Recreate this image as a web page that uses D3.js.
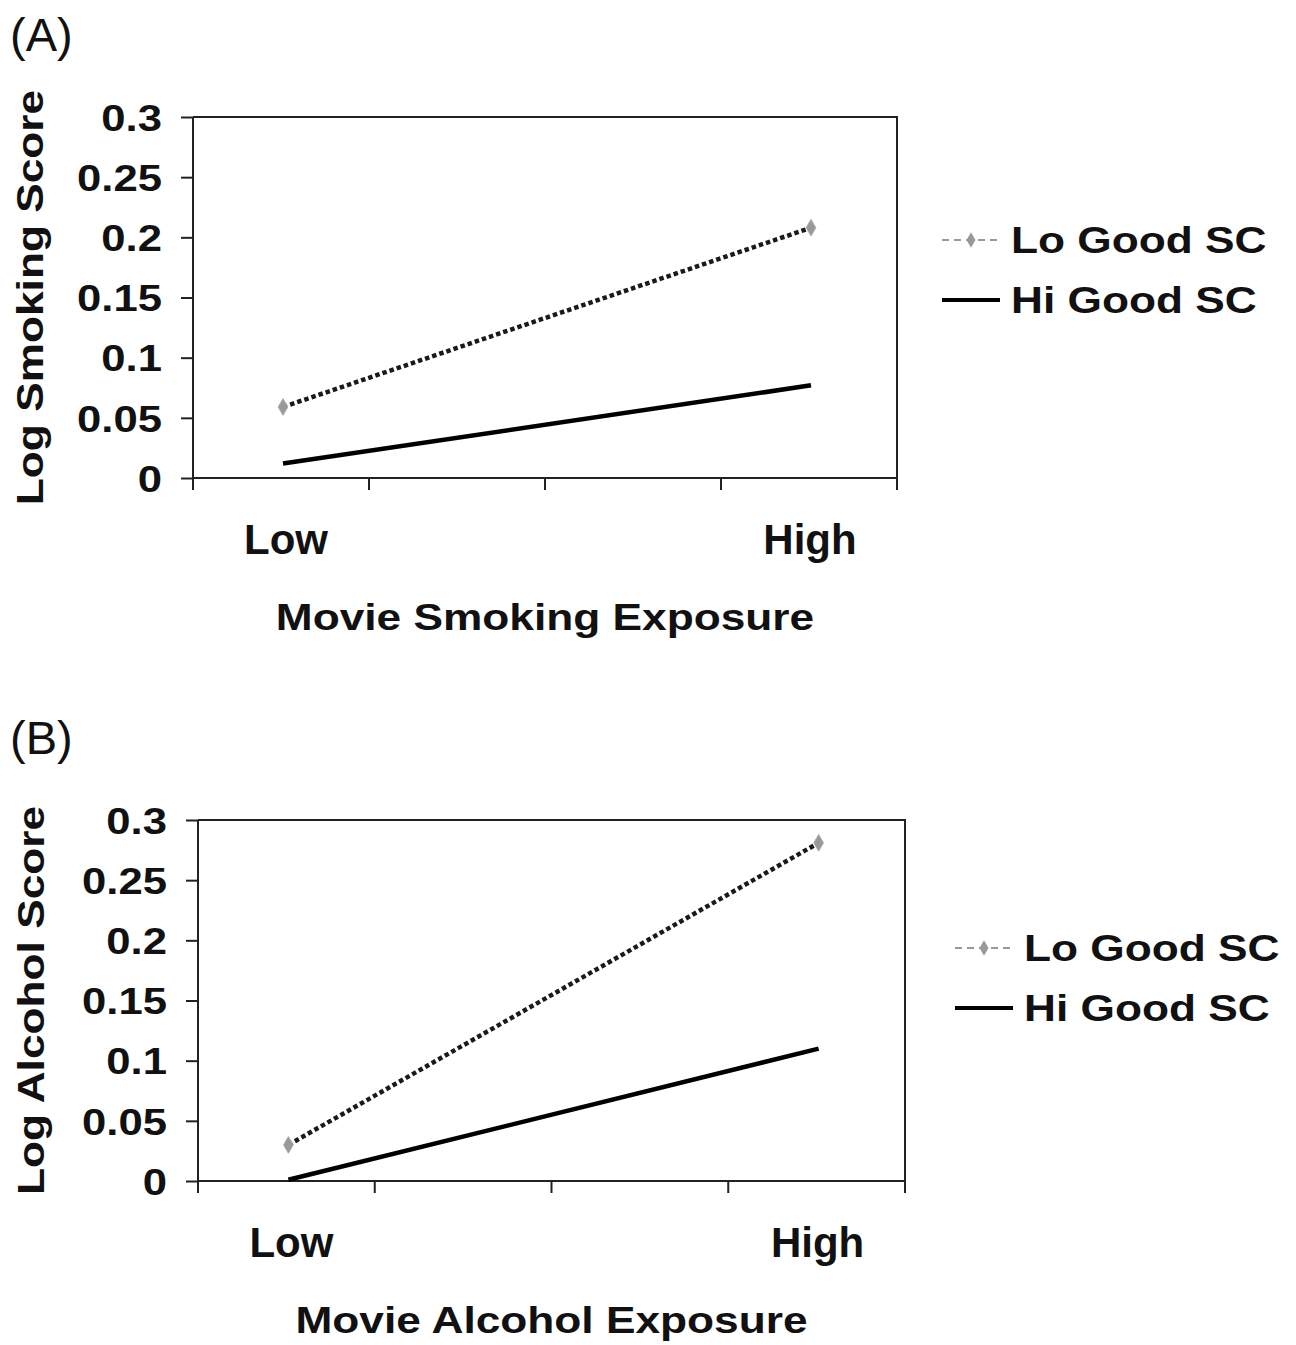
<!DOCTYPE html>
<html><head><meta charset="utf-8">
<script src="https://cdn.jsdelivr.net/npm/d3@7"></script>
<style>body{margin:0;background:#fff}svg{display:block}</style>
</head><body>
<svg id="c" width="1296" height="1345"></svg>
<script>
// ---- data ----
const categories = ["Low", "High"];
const slots = ["Low", "s1", "s2", "High"];          // Excel-style category axis with 4 divisions
const seriesNames = ["Lo Good SC", "Hi Good SC"];
const smokingLo = [0.059, 0.208];
const smokingHi = [0.012, 0.077];
const alcoholLo = [0.030, 0.281];
const alcoholHi = [0.001, 0.110];
const yTicks = [0, 0.05, 0.1, 0.15, 0.2, 0.25, 0.3];
const yTickLabels = ["0", "0.05", "0.1", "0.15", "0.2", "0.25", "0.3"];

const svg = d3.select("#c");
const FONT = "'Liberation Sans', Arial, Helvetica, sans-serif";
const SX = 1.18;   // horizontal stretch of the reference lettering

function panel(o) {
  const g = svg.append("g");
  const x = d3.scaleBand().domain(slots).range([o.x0, o.x1]);
  const y = d3.scaleLinear().domain([0, 0.3]).range([o.yb, o.yt]);

  // panel letter
  g.append("text").attr("x", 10).attr("y", o.letterY).text(o.letter)
    .attr("font-family", FONT).attr("font-size", 47).attr("fill", "#111");

  // box (top + right)
  g.append("path").attr("d", `M${o.x0},${o.yt}H${o.x1}V${o.yb}`)
    .attr("fill", "none").attr("stroke", "#222").attr("stroke-width", 2);

  // y axis
  const ya = d3.axisLeft(y).tickValues(yTicks).tickSize(12)
    .tickFormat((d, i) => yTickLabels[i]).tickPadding(0);
  const yg = g.append("g").attr("transform", `translate(${o.x0},0)`).call(ya);
  yg.select(".domain").attr("stroke", "#222").attr("stroke-width", 2).attr("d", `M0,${o.yt}V${o.yb}`);
  yg.selectAll(".tick line").attr("stroke", "#222").attr("stroke-width", 2);
  yg.selectAll("text").attr("font-family", FONT).attr("font-weight", "bold")
    .attr("font-size", 37).attr("fill", "#111").attr("dy", "0.36em")
    .attr("x", -31 / SX).attr("transform", `scale(${SX},1)`);

  // x axis: ticks at band boundaries
  const bounds = slots.map(s => x(s)).concat([o.x1]);
  const xg = g.append("g");
  xg.append("line").attr("x1", o.x0).attr("x2", o.x1).attr("y1", o.yb).attr("y2", o.yb)
    .attr("stroke", "#222").attr("stroke-width", 2);
  xg.selectAll("line.t").data(bounds).join("line").attr("class", "t")
    .attr("x1", d => d).attr("x2", d => d).attr("y1", o.yb).attr("y2", o.yb + 12)
    .attr("stroke", "#222").attr("stroke-width", 2);
  xg.selectAll("text").data(categories).join("text")
    .attr("x", (d, i) => x(d) + x.bandwidth() / 2 + (i === 0 ? 5 : 1)).attr("y", o.yb + 76)
    .attr("text-anchor", "middle").text(d => d)
    .attr("font-family", FONT).attr("font-weight", "bold").attr("font-size", 42).attr("fill", "#111");

  // axis titles
  g.append("text").attr("transform", `translate(${(o.x0 + o.x1) / 2},${o.yb + 152}) scale(${SX},1)`)
    .attr("text-anchor", "middle")
    .text(o.xTitle).attr("font-family", FONT).attr("font-weight", "bold").attr("font-size", 37.5).attr("fill", "#111");
  g.append("text").attr("transform", `translate(${o.titleX},${(o.yt + o.yb) / 2}) rotate(-90) scale(${SX},1)`)
    .attr("text-anchor", "middle").text(o.yTitle)
    .attr("font-family", FONT).attr("font-weight", "bold").attr("font-size", 37.5).attr("fill", "#111");

  const px = i => x(categories[i]) + x.bandwidth() / 2 + 2;
  const line = d3.line().x((d, i) => px(i)).y(d => y(d));

  // Hi Good SC: solid black
  g.append("path").datum(o.hi).attr("d", line).attr("fill", "none")
    .attr("stroke", "#000").attr("stroke-width", 4.5);
  // Lo Good SC: dotted dark with grey diamonds
  g.append("path").datum(o.lo).attr("d", line).attr("fill", "none")
    .attr("stroke", "#1a1a1a").attr("stroke-width", 4.5).attr("stroke-dasharray", "4.5,3");
  g.selectAll("path.m").data(o.lo).join("path").attr("class", "m")
    .attr("d", d3.symbol(d3.symbolDiamond, 80))
    .attr("transform", (d, i) => `translate(${px(i)},${y(d)})`)
    .attr("fill", "#999").attr("stroke", "#aaa").attr("stroke-width", 1);

  // legend
  const lg = g.append("g").attr("transform", `translate(${o.legX},${o.legY})`);
  lg.append("line").attr("x1", 0).attr("x2", 58).attr("y1", 0).attr("y2", 0)
    .attr("stroke", "#999").attr("stroke-width", 2).attr("stroke-dasharray", "7,5");
  lg.append("path").attr("d", d3.symbol(d3.symbolDiamond, 70)).attr("transform", "translate(29,0)").attr("fill", "#999");
  lg.append("line").attr("x1", 0).attr("x2", 58).attr("y1", 60).attr("y2", 60)
    .attr("stroke", "#000").attr("stroke-width", 4);
  lg.selectAll("text").data(seriesNames).join("text")
    .attr("transform", (d, i) => `translate(69,${i * 60 - 1}) scale(${SX},1)`)
    .attr("dy", "0.36em").text(d => d)
    .attr("font-family", FONT).attr("font-weight", "bold").attr("font-size", 37.5).attr("fill", "#111");
}

panel({letter: "(A)", letterY: 51, x0: 193, x1: 897, yt: 117, yb: 478,
  lo: smokingLo, hi: smokingHi, xTitle: "Movie Smoking Exposure", yTitle: "Log Smoking Score",
  titleX: 43, legX: 942, legY: 240});
panel({letter: "(B)", letterY: 754, x0: 198, x1: 905, yt: 820, yb: 1181,
  lo: alcoholLo, hi: alcoholHi, xTitle: "Movie Alcohol Exposure", yTitle: "Log Alcohol Score",
  titleX: 44, legX: 955, legY: 948});
</script>
</body></html>
